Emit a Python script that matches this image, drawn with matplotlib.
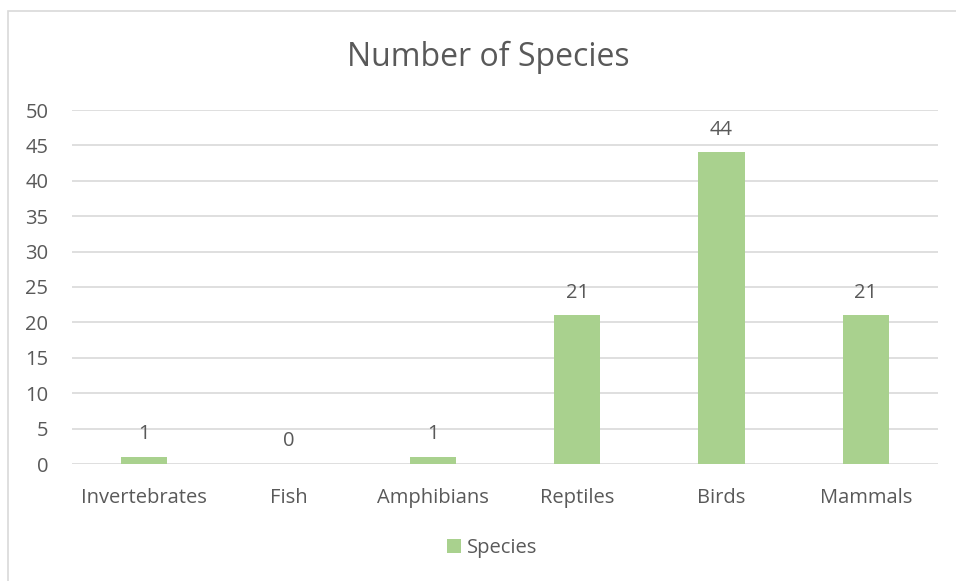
import matplotlib.pyplot as plt
from matplotlib.patches import Rectangle

categories = ['Invertebrates', 'Fish', 'Amphibians', 'Reptiles', 'Birds', 'Mammals']
species = [1, 0, 1, 21, 44, 21]

plt.rcParams['font.family'] = ['Open Sans', 'DejaVu Sans']
txt = '#595959'
fs = 14.5

fig = plt.figure(figsize=(9.56, 5.81), dpi=100)
ax = fig.add_axes([72/956, 1-464/581, (938-72)/956, (464-110)/581])

x = range(len(categories))
bars = ax.bar(x, species, width=0.32, color='#A9D18E', label='Species', zorder=3)
for xi, v in zip(x, species):
    ax.annotate(str(v), (xi, v), xytext=(0, 9), textcoords='offset points',
                ha='center', va='bottom', fontsize=fs, color=txt)

ax.set_xlim(-0.5, len(categories) - 0.5)
ax.set_ylim(0, 50)
ax.set_yticks(range(0, 51, 5))
ax.set_xticks(list(x))
ax.set_xticklabels(categories)
ax.tick_params(axis='both', length=0, labelsize=fs, labelcolor=txt)
ax.tick_params(axis='y', pad=17)
ax.tick_params(axis='x', pad=17)
ax.grid(axis='y', color='#D9D9D9', linewidth=1.2, zorder=0)
for s in ax.spines.values():
    s.set_visible(False)

fig.text(488/956, 1-57/581, 'Number of Species', ha='center', va='center',
         fontsize=23, color=txt)
fig.legend(handles=[bars], labels=['Species'], loc='center', bbox_to_anchor=(492/956, 1-548/581),
           frameon=False, fontsize=fs, labelcolor=txt, handlelength=0.7, handleheight=0.7,
           handletextpad=0.3)

fig.patches.append(Rectangle((8/956, -0.05), 1.1, 1.05 - 11/581, transform=fig.transFigure,
                             fill=False, edgecolor='#D9D9D9', linewidth=1.2))

fig.savefig('out.png', dpi=100)
